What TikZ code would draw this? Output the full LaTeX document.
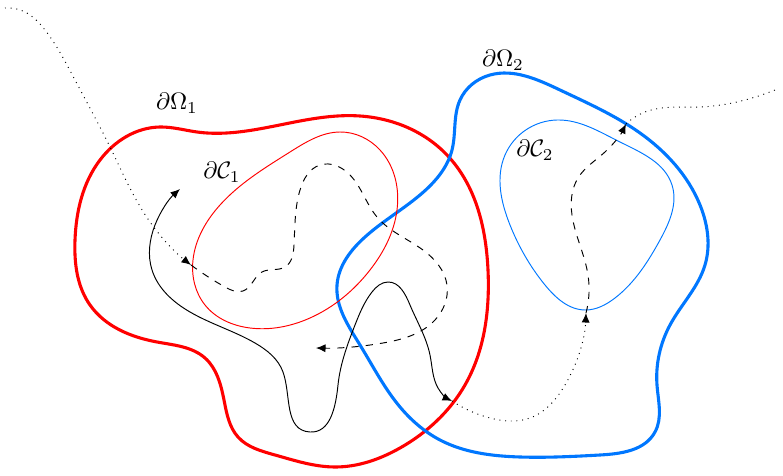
\documentclass[tikz,border=0pt]{standalone}
\usepackage{amsmath}
\usepackage{amssymb}
\usepackage{xcolor}
\usepackage{tikz}
\usetikzlibrary{arrows.meta,hobby}
\definecolor{omegablue}{RGB}{0,119,255}

\begin{document}
\begin{tikzpicture}[x=0.42pt,y=-0.42pt,
  outer/.style={line width=1.3pt,use Hobby shortcut,closed=true},
  inner/.style={line width=0.4pt,use Hobby shortcut,closed=true},
  traj/.style={black,line width=0.4pt,use Hobby shortcut,>={Latex[length=4pt,width=3.4pt]}}]
\useasboundingbox (0,0) rectangle (783,476);
% end points of the pieces of the trajectory
\coordinate (start) at (5,8);
\coordinate (inC1) at (191,265);
\coordinate (stop1) at (316,348);
\coordinate (back) at (180,189);
\coordinate (outO1) at (452,401);
\coordinate (inC2) at (586,313);
\coordinate (outO2) at (626,124);
\coordinate (stop2) at (775,90);
% domains
\draw[red,outer] (160,127) .. (197,132) .. (300,121) .. (360,116) .. (447,155) .. (488,270) .. (465,385) .. (400,448) .. (335,467) .. (275,455) .. (238,437) .. (224,400) .. (205,358) .. (157,342) .. (90,305) .. (75,240) .. (100,160);
\draw[omegablue,outer] (490,75) .. (560,90) .. (640,133) .. (700,205) .. (705,265) .. (670,325) .. (657,385) .. (655,432) .. (600,455) .. (520,457) .. (440,440) .. (400,407) .. (360,345) .. (337,285) .. (365,237) .. (420,195) .. (452,150) .. (460,100);
\draw[red,inner] (340,132) .. (380,150) .. (397,210) .. (370,270) .. (310,318) .. (250,328) .. (205,305) .. (193,260) .. (220,205) .. (290,152);
\draw[omegablue,inner] (557,120) .. (620,142) .. (672,185) .. (660,240) .. (615,298) .. (585,310) .. (545,285) .. (510,225) .. (505,155);
% trajectory
\draw[traj,dotted,->] (start) .. (25,12) .. (45,30) .. (75,80) .. (110,147) .. (150,222) .. (inC1);
\draw[traj,dashed,->] (inC1) .. (225,287) .. (243,291) .. (262,272) .. (285,267) .. (294,245) .. (300,190) .. (320,165) .. (350,175) .. (377,217) .. (423,250) .. (447,285) .. (435,320) .. (383,343) .. (stop1);
\draw[traj,<->] (back) .. (155,225) .. (152,270) .. (190,312) .. (255,343) .. (283,372) .. (310,432) .. (338,385) .. (355,325) .. (372,292) .. (388,282) .. (410,305) .. (430,355) .. (438,388) .. (outO1);
\draw[traj,dotted,->] (outO1) .. (490,418) .. (530,418) .. (565,385) .. (inC2);
\draw[traj,dashed,->] (inC2) .. (588,275) .. (572,215) .. (578,178) .. (605,152) .. (outO2);
\draw[traj,dotted] (outO2) .. (645,112) .. (700,107) .. (745,100) .. (stop2);
% labels
\node (lO1) at (177,103) {$\partial\Omega_1$};
\node (lC1) at (222,172) {$\partial\mathcal{C}_1$};
\node (lO2) at (503,60) {$\partial\Omega_2$};
\node (lC2) at (535,150) {$\partial\mathcal{C}_2$};
\end{tikzpicture}
\end{document}
